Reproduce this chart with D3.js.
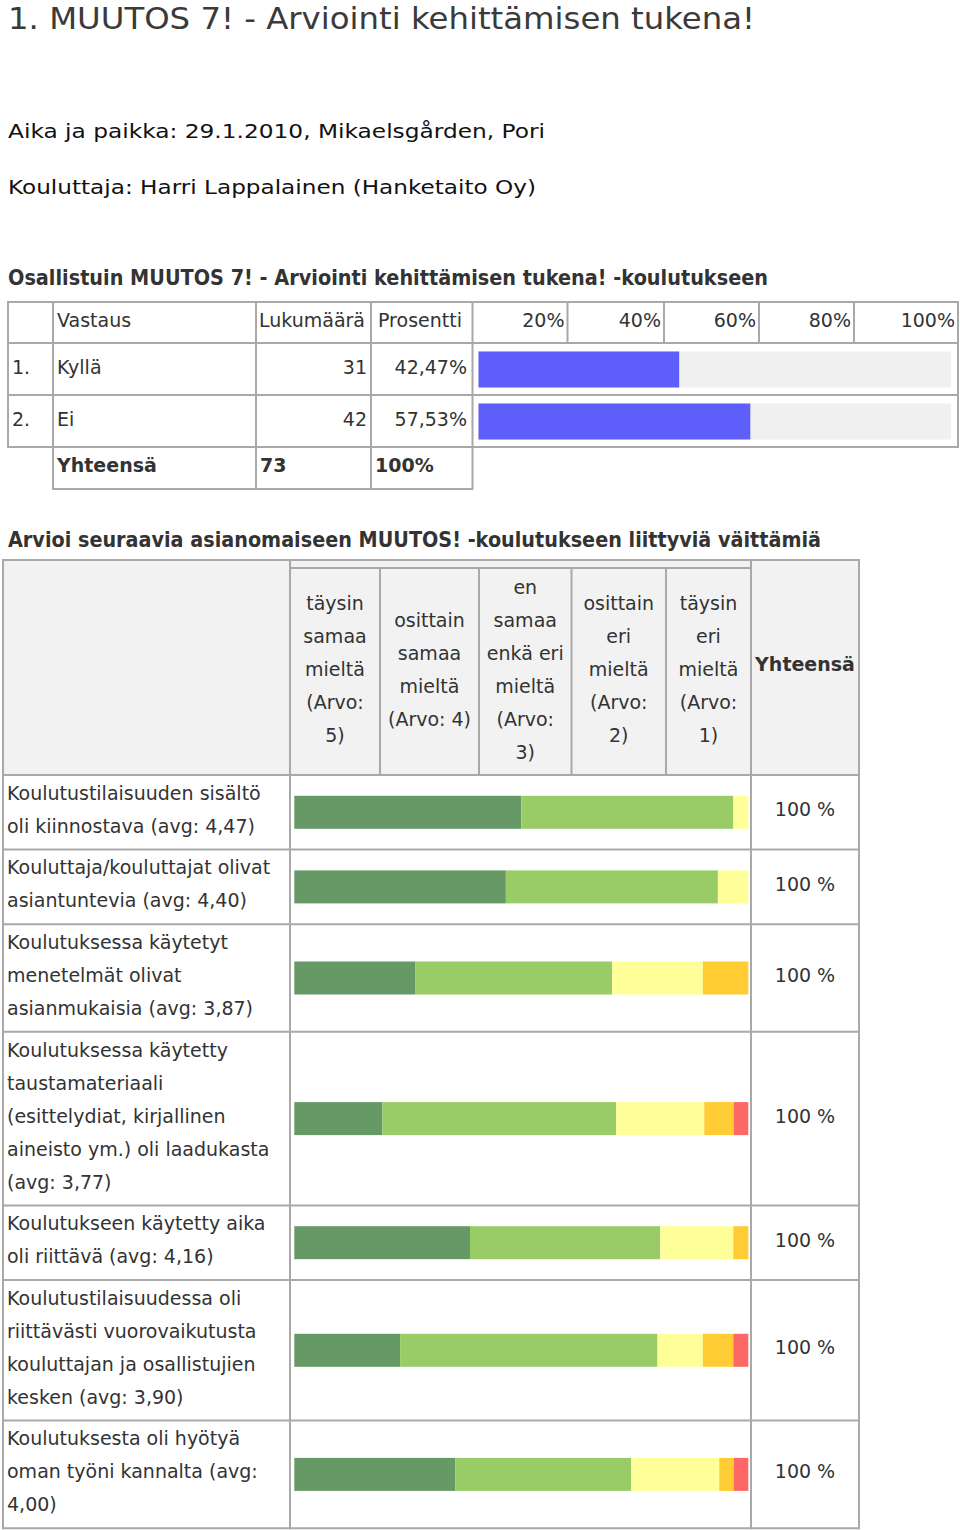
<!DOCTYPE html>
<html><head><meta charset="utf-8">
<script src="https://cdn.jsdelivr.net/npm/d3@7"></script>
<style>
html,body{margin:0;padding:0;background:#fff;}
svg{display:block;font-family:"DejaVu Sans",Verdana,sans-serif;}
</style></head>
<body>
<script>
// ---------- data ----------
const pageTitle = "1. MUUTOS 7! - Arviointi kehittämisen tukena!";
const infoLines = ["Aika ja paikka: 29.1.2010, Mikaelsgården, Pori", "Kouluttaja: Harri Lappalainen (Hanketaito Oy)"];
const q1Title = "Osallistuin MUUTOS 7! - Arviointi kehittämisen tukena! -koulutukseen";
const q1Answers = ["Kyllä", "Ei"];
const q1Counts = [31, 42];
const q1Percents = [42.47, 57.53];
const q1PercentLabels = ["42,47%", "57,53%"];
const q1Ticks = ["20%", "40%", "60%", "80%", "100%"];
const q1Total = ["Yhteensä", "73", "100%"];

const q2Title = "Arvioi seuraavia asianomaiseen MUUTOS! -koulutukseen liittyviä väittämiä";
const scaleHeaders = [
  ["täysin","samaa","mieltä","(Arvo:","5)"],
  ["osittain","samaa","mieltä","(Arvo: 4)"],
  ["en","samaa","enkä eri","mieltä","(Arvo:","3)"],
  ["osittain","eri","mieltä","(Arvo:","2)"],
  ["täysin","eri","mieltä","(Arvo:","1)"]
];
const statements = [
  ["Koulutustilaisuuden sisältö","oli kiinnostava (avg: 4,47)"],
  ["Kouluttaja/kouluttajat olivat","asiantuntevia (avg: 4,40)"],
  ["Koulutuksessa käytetyt","menetelmät olivat","asianmukaisia (avg: 3,87)"],
  ["Koulutuksessa käytetty","taustamateriaali","(esittelydiat, kirjallinen","aineisto ym.) oli laadukasta","(avg: 3,77)"],
  ["Koulutukseen käytetty aika","oli riittävä (avg: 4,16)"],
  ["Koulutustilaisuudessa oli","riittävästi vuorovaikutusta","kouluttajan ja osallistujien","kesken (avg: 3,90)"],
  ["Koulutuksesta oli hyötyä","oman työni kannalta (avg:","4,00)"]
];
const share5 = [50.0, 46.6, 26.7, 19.4, 38.7, 23.3, 35.5];
const share4 = [46.7, 46.7, 43.3, 51.5, 41.9, 56.7, 38.7];
const share3 = [3.3, 6.7, 20.0, 19.4, 16.1, 10.0, 19.4];
const share2 = [0, 0, 10.0, 6.5, 3.3, 6.7, 3.2];
const share1 = [0, 0, 0, 3.2, 0, 3.3, 3.2];
const totalLabel = "100 %";
const totalHeader = "Yhteensä";

// ---------- drawing ----------
const W = 960, H = 1530;
const svg = d3.select("body").append("svg").attr("width", W).attr("height", H);
const txt = "#333";
const lineC = "#a9a9a9";

function text(x, y, s, opts = {}) {
  const t = svg.append("text").attr("x", x).attr("y", y).text(s)
    .attr("fill", opts.fill || txt)
    .attr("font-size", opts.size || 19)
    .attr("font-weight", opts.bold ? "bold" : null)
    .attr("text-anchor", opts.anchor || "start");
  if (opts.len) t.attr("textLength", opts.len).attr("lengthAdjust", "spacingAndGlyphs");
  if (opts.family) t.attr("font-family", opts.family);
  return t;
}
function hline(x1, x2, y) { svg.append("line").attr("x1", x1).attr("x2", x2).attr("y1", y).attr("y2", y).attr("stroke", lineC).attr("stroke-width", 2); }
function vline(x, y1, y2) { svg.append("line").attr("x1", x).attr("x2", x).attr("y1", y1).attr("y2", y2).attr("stroke", lineC).attr("stroke-width", 2); }

// headings
text(8, 29, pageTitle, {size: 30, len: 747, fill: "#3a3a3a"});
text(8, 138, infoLines[0], {size: 20, len: 537, fill: "#111"});
text(8, 194, infoLines[1], {size: 20, len: 528, fill: "#111"});
text(8, 285, q1Title, {size: 22, bold: true, len: 760, fill: "#333"});
text(8, 547, q2Title, {size: 22, bold: true, len: 813, fill: "#333"});

// ---------- table 1 ----------
const t1TickEdges = [472.5, 567.5, 664, 759, 854, 958];

const x1 = d3.scaleLinear().domain([0, 100]).range([478.5, 951]);
const rowY1 = d3.scaleBand().domain(q1Answers).range([343, 447]).paddingInner(0).paddingOuter(0);
svg.selectAll("rect.track").data(q1Answers).join("rect").attr("class", "track")
  .attr("x", x1(0)).attr("width", x1(100) - x1(0))
  .attr("y", d => rowY1(d) + 8.5).attr("height", 36).attr("fill", "#f0f0f0");
svg.selectAll("rect.bar1").data(q1Percents).join("rect").attr("class", "bar1")
  .attr("x", x1(0)).attr("width", d => x1(d) - x1(0))
  .attr("y", (d, i) => rowY1(q1Answers[i]) + 8.5).attr("height", 36).attr("fill", "#5e5efa");

[302, 343, 395, 447].forEach(y => hline(7, 959, y));
hline(52, 473, 489);
vline(8, 301, 448);
vline(53, 301, 490);
vline(256, 301, 490);
vline(371, 301, 490);
vline(472.5, 301, 490);
t1TickEdges.slice(1, -1).forEach(x => vline(x, 301, 343));
vline(958, 301, 448);

text(57, 327, "Vastaus");
text(259, 327, "Lukumäärä");
text(378, 327, "Prosentti");
q1Ticks.forEach((t, i) => text(t1TickEdges[i + 1] - 3, 327, t, {anchor: "end"}));
q1Answers.forEach((a, i) => {
  const yb = rowY1(a) + rowY1.bandwidth() / 2 + 5;
  text(12, yb, (i + 1) + ".");
  text(57, yb, a);
  text(367, yb, String(q1Counts[i]), {anchor: "end"});
  text(467, yb, q1PercentLabels[i], {anchor: "end"});
});
text(57, 472, q1Total[0], {bold: true});
text(260, 472, q1Total[1], {bold: true});
text(375, 472, q1Total[2], {bold: true});

// ---------- table 2 ----------
const t2Top = 560, t2Sub = 568, t2HeadBottom = 775;
const t2Left = 3, t2LabelRight = 290, t2BarRight = 751, t2Right = 859;
const subEdges = [290, 380, 479, 571.5, 666, 751];
const lineH = 33, rowPad = 8.6;

svg.append("rect").attr("x", t2Left).attr("y", t2Top).attr("width", t2Right - t2Left).attr("height", t2HeadBottom - t2Top).attr("fill", "#f2f2f2");

const rowTops = [];
let yy = t2HeadBottom;
statements.forEach(s => { rowTops.push(yy); yy += s.length * lineH + rowPad; });
const t2Bottom = yy;
const rowH = statements.map(s => s.length * lineH + rowPad);

const keys = ["s5", "s4", "s3", "s2", "s1"];
const colors = {s5: "#669966", s4: "#99cc66", s3: "#ffff99", s2: "#ffcc33", s1: "#ff6666"};
const table = statements.map((s, i) => ({i, s5: share5[i], s4: share4[i], s3: share3[i], s2: share2[i], s1: share1[i]}));
const stacked = d3.stack().keys(keys)(table);
const x2 = d3.scaleLinear().domain([0, 100]).range([294.3, 748.3]);
svg.append("g").selectAll("g").data(stacked).join("g").attr("fill", d => colors[d.key])
  .selectAll("rect").data(d => d).join("rect")
  .attr("x", d => x2(d[0])).attr("width", d => Math.max(0, x2(d[1]) - x2(d[0])))
  .attr("y", (d, i) => rowTops[i] + rowH[i] / 2 - 16.5).attr("height", 33);

hline(t2Left - 1, t2Right + 1, t2Top);
hline(t2LabelRight, t2BarRight, t2Sub);
hline(t2Left - 1, t2Right + 1, t2HeadBottom);
rowTops.slice(1).forEach(y => hline(t2Left - 1, t2Right + 1, y));
hline(t2Left - 1, t2Right + 1, t2Bottom);
vline(t2Left, t2Top - 1, t2Bottom + 1);
vline(t2LabelRight, t2Top - 1, t2Bottom + 1);
vline(t2BarRight, t2Top - 1, t2Bottom + 1);
vline(t2Right, t2Top - 1, t2Bottom + 1);
subEdges.slice(1, -1).forEach(x => vline(x, t2Sub, t2HeadBottom));

const headCenter = 672;
scaleHeaders.forEach((lines, c) => {
  const cx = (subEdges[c] + subEdges[c + 1]) / 2;
  lines.forEach((l, k) => {
    const cy = headCenter + (k - (lines.length - 1) / 2) * lineH;
    text(cx, cy + 4, l, {anchor: "middle"});
  });
});
text((t2BarRight + t2Right) / 2, 671, totalHeader, {anchor: "middle", bold: true});

statements.forEach((lines, i) => {
  const c = rowTops[i] + rowH[i] / 2;
  lines.forEach((l, k) => {
    const cy = c + (k - (lines.length - 1) / 2) * lineH;
    text(7, cy + 4, l);
  });
  text((t2BarRight + t2Right) / 2, c + 4, totalLabel, {anchor: "middle"});
});
</script>
</body></html>
